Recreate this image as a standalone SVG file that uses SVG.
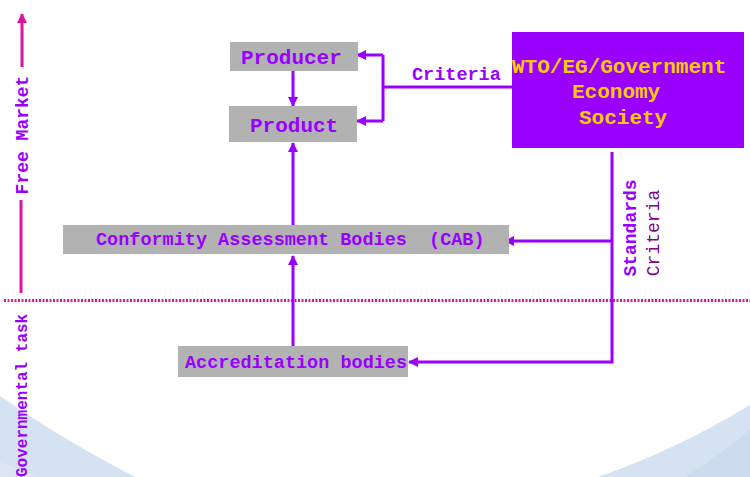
<svg xmlns="http://www.w3.org/2000/svg" width="750" height="477" viewBox="0 0 750 477">
<defs>
<style>
.box{fill:#B2B2B2;}
.t{font-family:"Liberation Mono","Courier New",monospace;font-weight:bold;fill:#9900FF;}
.wto{font-family:"Liberation Mono","Courier New",monospace;font-weight:bold;fill:#FFCC00;font-size:21px;}
.c{stroke:#9900FF;stroke-width:3;fill:none;}
.m{stroke:#E0139B;stroke-width:3;fill:none;}
</style>
<marker id="ah" markerWidth="10" markerHeight="10" refX="9" refY="5" orient="auto" markerUnits="userSpaceOnUse">
<path d="M0,0 L10,5 L0,10 Z" fill="#9900FF"/>
</marker>
<marker id="ahm" markerWidth="10" markerHeight="10" refX="9" refY="5" orient="auto" markerUnits="userSpaceOnUse">
<path d="M0,0 L10,5 L0,10 Z" fill="#E0139B"/>
</marker>
</defs>
<rect x="0" y="0" width="750" height="477" fill="#FFFFFF"/>
<g id="background">
<path d="M0,396 Q60,438 135,477 L0,477 Z" fill="#D4E2F1"/>
<path d="M0,462 Q20,470 40,477 L0,477 Z" fill="#DCE7F3"/>
<path d="M750,405 Q680,448 598,477 L750,477 Z" fill="#D4E2F1"/>
<path d="M750,430 Q720,455 685,477 L750,477 Z" fill="#CCDCEE"/>
</g>
<g id="dividers">
<line class="m" x1="4" y1="300.5" x2="750" y2="300.5" stroke-dasharray="2,1.5"/>
<line class="m" x1="21" y1="293" x2="21" y2="200"/>
<line class="m" x1="22" y1="67" x2="22" y2="14" marker-end="url(#ahm)"/>
</g>
<g id="side-labels">
<text class="t" font-size="18" text-anchor="middle" transform="translate(28,135) rotate(-90)">Free Market</text>
<text class="t" font-size="16" text-anchor="start" transform="translate(27,477) rotate(-90)">Governmental task</text>
<text class="t" font-size="18" text-anchor="middle" transform="translate(636,228) rotate(-90)">Standards</text>
<text font-family="Liberation Mono, Courier New, monospace" fill="#80008B" font-size="18" text-anchor="middle" transform="translate(659,233) rotate(-90)">Criteria</text>
</g>
<g id="connectors">
<line class="c" x1="293" y1="71" x2="293" y2="106" marker-end="url(#ah)"/>
<line class="c" x1="512" y1="87" x2="383" y2="87"/>
<polyline class="c" points="383,55 383,121"/>
<line class="c" x1="383" y1="55" x2="357" y2="55" marker-end="url(#ah)"/>
<line class="c" x1="383" y1="121" x2="357" y2="121" marker-end="url(#ah)"/>
<line class="c" x1="293" y1="225" x2="293" y2="143" marker-end="url(#ah)"/>
<line class="c" x1="293" y1="346" x2="293" y2="256" marker-end="url(#ah)"/>
<polyline class="c" points="612,152 612,362 409,362" marker-end="url(#ah)"/>
<line class="c" x1="612" y1="241" x2="505" y2="241" marker-end="url(#ah)"/>
<text class="t" font-size="18.5" font-weight="normal" x="412" y="80">Criteria</text>
</g>
<g id="producer">
<rect class="box" x="230" y="42" width="128" height="29"/>
<text class="t" font-size="21" x="241" y="64">Producer</text>
</g>
<g id="product">
<rect class="box" x="229" y="106" width="128" height="36"/>
<text class="t" font-size="21" x="250" y="132">Product</text>
</g>
<g id="wto">
<rect x="512" y="32" width="232" height="116" fill="#9900FF"/>
<text class="wto" x="512" y="73">WTO/EG/Government</text>
<text class="wto" x="572" y="98">Economy</text>
<text class="wto" x="579" y="124">Society</text>
</g>
<g id="cab">
<rect class="box" x="63" y="225" width="446" height="29"/>
<text class="t" font-size="18.5" x="96" y="245" xml:space="preserve">Conformity Assessment Bodies  (CAB)</text>
</g>
<g id="accreditation">
<rect class="box" x="178" y="346" width="230" height="31"/>
<text class="t" font-size="18.5" x="185" y="368">Accreditation bodies</text>
</g>
</svg>
